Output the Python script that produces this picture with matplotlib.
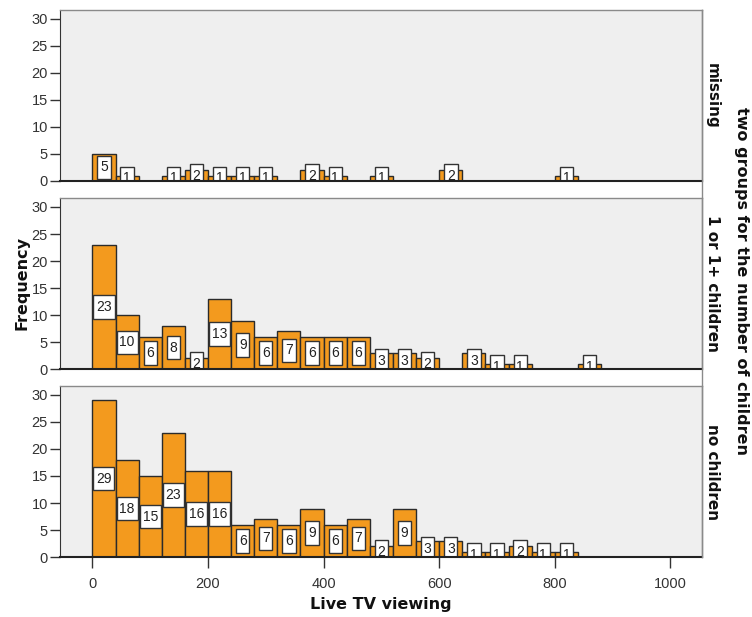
import matplotlib.pyplot as plt
import numpy as np
from matplotlib.path import Path

# histogram bins of Live TV viewing (width 40, from 0 to 880)
bin_width = 40
bin_starts = np.arange(0, 880, bin_width)

groups = ["missing", "1 or 1+ children", "no children"]
missing = [5, 1, 0, 1, 2, 1, 1, 1, 0, 2, 1, 0, 1, 0, 0, 2, 0, 0, 0, 0, 1, 0]
children = [23, 10, 6, 8, 2, 13, 9, 6, 7, 6, 6, 6, 3, 3, 2, 0, 3, 1, 1, 0, 0, 1]
no_children = [29, 18, 15, 23, 16, 16, 6, 7, 6, 9, 6, 7, 2, 9, 3, 3, 1, 1, 2, 1, 1, 0]
counts = [missing, children, no_children]

y_ticks = [0, 5, 10, 15, 20, 25, 30]
x_ticks = [0, 200, 400, 600, 800, 1000]

orange = "#F39A1E"
bg = "#EFEFEF"
W, H = 752, 617


def label_box(x0, y0, width, height, mutation_size):
    # SPSS-like value label: a bit more room above/below than at the sides
    px = 0.2 * mutation_size
    py = 0.34 * mutation_size
    x0, x1 = x0 - px, x0 + width + px
    y0, y1 = y0 - py, y0 + height + py
    return Path([(x0, y0), (x1, y0), (x1, y1), (x0, y1), (x0, y0)], closed=True)


fig = plt.figure(figsize=(W / 100, H / 100), dpi=100)

# panel positions in pixels (left, top, right, bottom)
left_px, right_px = 60.3, 701.7
panels_px = [(10, 181), (198.3, 369.3), (386, 557.3)]

for i, (top_px, bot_px) in enumerate(panels_px):
    ax = fig.add_axes([left_px / W, 1 - bot_px / H,
                       (right_px - left_px) / W, (bot_px - top_px) / H])
    ax.set_facecolor(bg)
    vals = np.array(counts[i])
    keep = vals > 0
    ax.bar(bin_starts[keep], vals[keep], width=bin_width, align="edge",
           color=orange, edgecolor="#2b2b2b", linewidth=1.0, zorder=2)
    for x0, v in zip(bin_starts[keep], vals[keep]):
        ax.text(x0 + bin_width / 2, v / 2, str(v), ha="center", va="center",
                fontsize=10, family="Liberation Sans", color="#222222",
                clip_on=True, zorder=3,
                bbox=dict(boxstyle=label_box, fc="white",
                          ec="#333333", lw=1.0))
    ax.set_xlim(-55.5, 1054)
    ax.set_ylim(0, 31.6)
    ax.set_yticks(y_ticks)
    ax.set_xticks(x_ticks)
    ax.tick_params(axis="y", direction="out", length=7, width=1,
                   color="#333333", labelsize=10.5, labelcolor="#333333", pad=2)
    ax.tick_params(axis="x", direction="out", length=8, width=1,
                   color="#333333", labelsize=10.5, labelcolor="#333333", pad=6)
    for lab in ax.get_xticklabels() + ax.get_yticklabels():
        lab.set_family("Liberation Sans")
    if i < 2:
        ax.tick_params(axis="x", length=0, labelbottom=False)
    for side in ["top", "right"]:
        ax.spines[side].set_color("#8a8a8a")
        ax.spines[side].set_linewidth(1.0)
    ax.spines["left"].set_color("#333333")
    ax.spines["bottom"].set_color("#222222")
    ax.spines["bottom"].set_linewidth(1.5)
    ax.spines["bottom"].set_zorder(4)
    mid = 1 - (top_px + bot_px) / 2 / H
    fig.text(712.5 / W, mid, groups[i], rotation=270, ha="center", va="center",
             fontsize=11, fontweight="bold", color="#111111")

# continuous right border through the gaps
fig.add_artist(plt.Line2D([right_px / W, right_px / W],
                          [1 - panels_px[-1][1] / H, 1 - panels_px[0][0] / H],
                          color="#8a8a8a", linewidth=1.0))

fig.text(22 / W, 1 - 283.5 / H, "Frequency", rotation=90, ha="center",
         va="center", fontsize=11.5, fontweight="bold", color="#111111")
fig.text(381 / W, 1 - 605 / H, "Live TV viewing", ha="center", va="center",
         fontsize=11.5, fontweight="bold", color="#111111")
fig.text(742 / W, 1 - 281.5 / H, "two groups for the number of children",
         rotation=270, ha="center", va="center", fontsize=11.5,
         fontweight="bold", color="#111111")

fig.savefig("out.png", dpi=100)
